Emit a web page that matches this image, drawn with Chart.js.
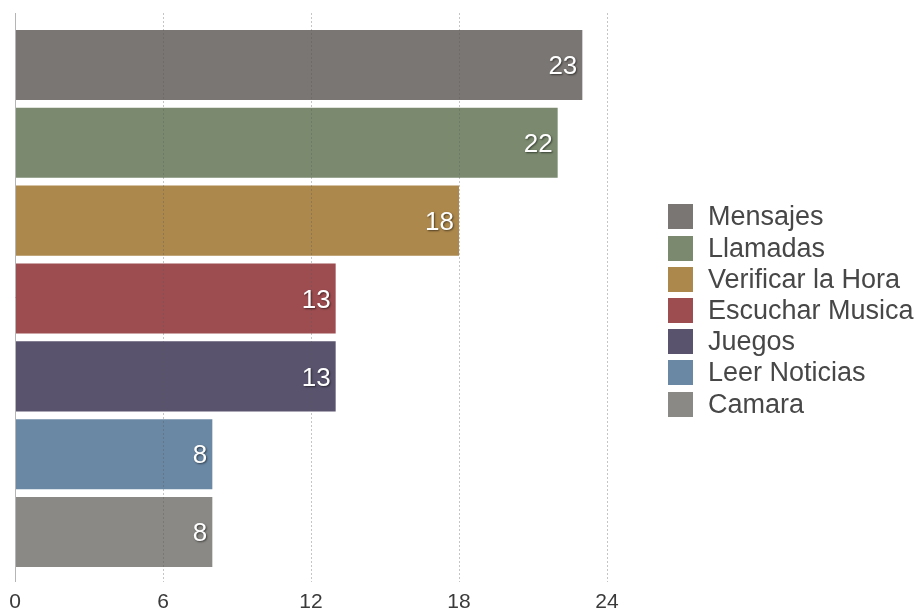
<!DOCTYPE html>
<html>
<head>
<meta charset="utf-8">
<script src="https://cdn.jsdelivr.net/npm/chart.js@4.4.1/dist/chart.umd.min.js"></script>
<style>
  html, body { margin: 0; padding: 0; background: #fff; }
  #wrap { width: 916px; height: 610px; }
</style>
</head>
<body>
<div id="wrap"><canvas id="usoChart" width="916" height="610"></canvas></div>
<script>
// Data
const categorias = ["Mensajes", "Llamadas", "Verificar la Hora", "Escuchar Musica", "Juegos", "Leer Noticias", "Camara"];
const valores = [23, 22, 18, 13, 13, 8, 8];
const colores = ["#7a7673", "#7b8a6f", "#ad884c", "#9d4d50", "#5a536e", "#6a88a4", "#8a8985"];
const ejeMin = 0;
const ejeMax = 24;
const ejePaso = 6;

const fontFamily = "'Liberation Sans', Arial, Helvetica, sans-serif";

// dotted vertical grid + left axis line, drawn over the bars
const gridPlugin = {
  id: "gridPlugin",
  afterDatasetsDraw(chart) {
    const { ctx, chartArea, scales } = chart;
    const top = chartArea.top - 13;
    const bottom = chartArea.bottom + 11;
    ctx.save();
    scales.x.ticks.forEach((t) => {
      if (t.value === 0) return;
      const x = Math.round(scales.x.getPixelForValue(t.value)) + 0.5;
      ctx.strokeStyle = "rgba(90,90,90,0.35)";
      ctx.lineWidth = 1;
      ctx.setLineDash([2, 2]);
      ctx.beginPath();
      ctx.moveTo(x, top);
      ctx.lineTo(x, bottom);
      ctx.stroke();
    });
    const x0 = Math.round(scales.x.getPixelForValue(0)) + 0.5;
    ctx.setLineDash([]);
    ctx.strokeStyle = "#b5b5b5";
    ctx.beginPath();
    ctx.moveTo(x0, top);
    ctx.lineTo(x0, bottom);
    ctx.stroke();
    ctx.restore();
  },
};

// value labels inside the bar end
const labelPlugin = {
  id: "labelPlugin",
  afterDatasetsDraw(chart) {
    const { ctx } = chart;
    const meta = chart.getDatasetMeta(0);
    ctx.save();
    ctx.font = "26px " + fontFamily;
    ctx.textAlign = "right";
    ctx.textBaseline = "middle";
    ctx.fillStyle = "#ffffff";
    ctx.shadowColor = "rgba(0,0,0,0.55)";
    ctx.shadowOffsetX = 1;
    ctx.shadowOffsetY = 1;
    ctx.shadowBlur = 2;
    meta.data.forEach((bar, i) => {
      ctx.fillText(String(valores[i]), bar.x - 5, bar.y + 2);
    });
    ctx.restore();
  },
};

// legend on the right
const legendPlugin = {
  id: "legendPlugin",
  afterDraw(chart) {
    const { ctx, chartArea } = chart;
    const boxX = chartArea.right + 61;
    const rowH = 31.2;
    const centerY = 310.5;
    const startY = centerY - rowH * (categorias.length - 1) / 2;
    ctx.save();
    ctx.font = "27px " + fontFamily;
    ctx.textBaseline = "middle";
    ctx.textAlign = "left";
    categorias.forEach((c, i) => {
      const y = startY + i * rowH;
      ctx.fillStyle = colores[i];
      ctx.fillRect(boxX, Math.round(y - 12.5), 25, 25);
      ctx.fillStyle = "#474747";
      ctx.fillText(c, boxX + 40, y + 1);
    });
    ctx.restore();
  },
};

const ctx = document.getElementById("usoChart").getContext("2d");
const usoChart = new Chart(ctx, {
  type: "bar",
  data: {
    labels: categorias,
    datasets: [
      {
        label: "Uso",
        data: valores,
        backgroundColor: colores,
        borderWidth: 0,
        barPercentage: 0.9,
        categoryPercentage: 1,
      },
    ],
  },
  options: {
    indexAxis: "y",
    responsive: false,
    animation: false,
    layout: {
      padding: { left: 15, top: 26, right: 309, bottom: 0 },
    },
    scales: {
      x: {
        min: ejeMin,
        max: ejeMax,
        grid: { display: false, drawTicks: false },
        border: { display: false },
        ticks: {
          stepSize: ejePaso,
          padding: 21,
          maxRotation: 0,
          minRotation: 0,
          color: "#3a3a3a",
          font: { family: fontFamily, size: 21, lineHeight: 1 },
        },
        afterFit(scale) {
          scale.height = 39;
          scale.paddingLeft = 0;
          scale.paddingRight = 0;
        },
      },
      y: {
        display: false,
      },
    },
    plugins: {
      legend: { display: false },
      tooltip: { enabled: false },
    },
  },
  plugins: [gridPlugin, labelPlugin, legendPlugin],
});
</script>
</body>
</html>
